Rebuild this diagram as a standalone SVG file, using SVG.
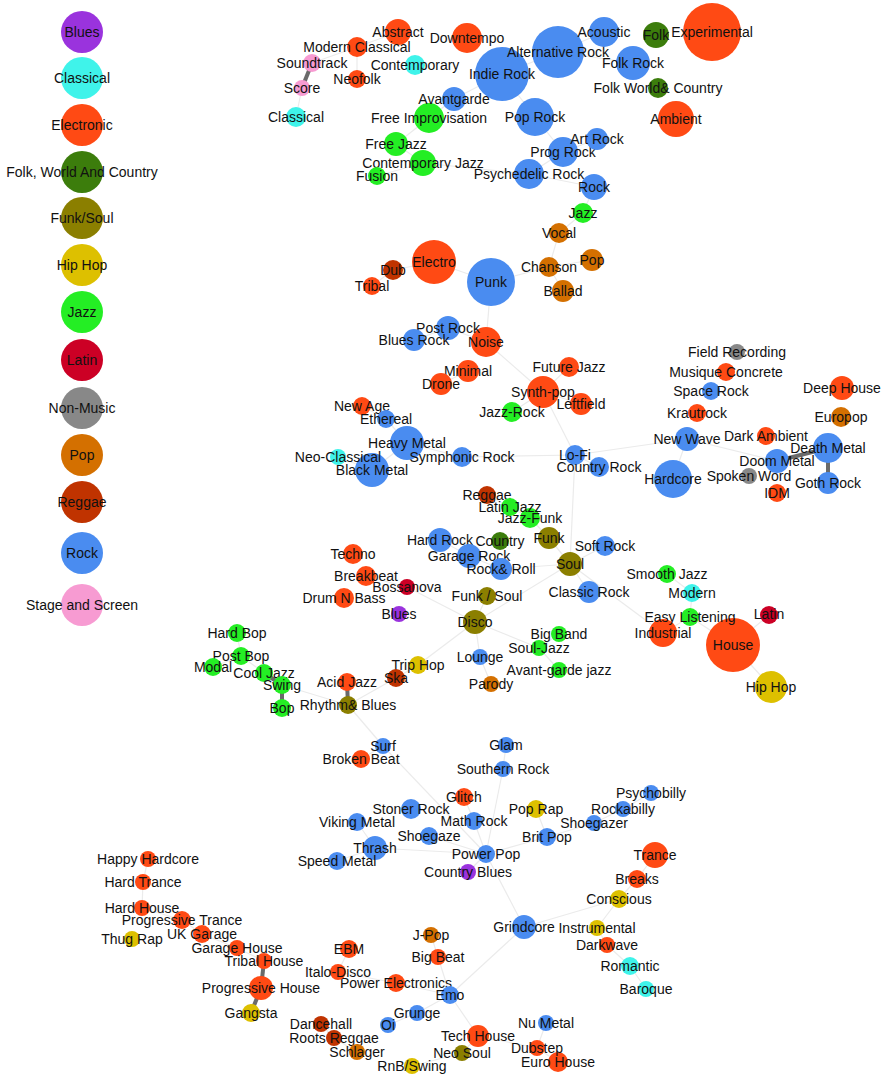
<svg xmlns="http://www.w3.org/2000/svg" width="885" height="1080" viewBox="0 0 885 1080">
<style>
text{font-family:"Liberation Sans",Arial,sans-serif;font-size:14px;fill:#111;text-anchor:middle}
.bl{fill:#9a33dd}.cl{fill:#3ff3ea}.el{fill:#ff4a14}.fo{fill:#3c7d0c}.fu{fill:#8b7f00}.hh{fill:#ddc000}.ja{fill:#24ee24}.la{fill:#cc0025}.nm{fill:#888}.po{fill:#d47000}.re{fill:#c03300}.ro{fill:#4a8cf0}.st{fill:#f79bd2}
#edges line{stroke:#ebebeb;stroke-width:1.2}
#edges line.t{stroke:#6a6a6a;stroke-width:4}
</style>
<rect width="885" height="1080" fill="#fff"/>
<g id="legend">
<g id="lg-blues"><circle class="bl" cx="82" cy="32" r="21"/><text x="82" y="37">Blues</text></g>
<g id="lg-classical"><circle class="cl" cx="82" cy="78" r="21"/><text x="82" y="83">Classical</text></g>
<g id="lg-electronic"><circle class="el" cx="82" cy="125" r="21"/><text x="82" y="130">Electronic</text></g>
<g id="lg-folk"><circle class="fo" cx="82" cy="172" r="21"/><text x="82" y="177">Folk, World And Country</text></g>
<g id="lg-funk"><circle class="fu" cx="82" cy="218" r="21"/><text x="82" y="223">Funk/Soul</text></g>
<g id="lg-hiphop"><circle class="hh" cx="82" cy="265" r="21"/><text x="82" y="270">Hip Hop</text></g>
<g id="lg-jazz"><circle class="ja" cx="82" cy="312" r="21"/><text x="82" y="317">Jazz</text></g>
<g id="lg-latin"><circle class="la" cx="82" cy="360" r="21"/><text x="82" y="365">Latin</text></g>
<g id="lg-nonmusic"><circle class="nm" cx="82" cy="408" r="21"/><text x="82" y="413">Non-Music</text></g>
<g id="lg-pop"><circle class="po" cx="82" cy="455" r="21"/><text x="82" y="460">Pop</text></g>
<g id="lg-reggae"><circle class="re" cx="82" cy="502" r="21"/><text x="82" y="507">Reggae</text></g>
<g id="lg-rock"><circle class="ro" cx="82" cy="553" r="21"/><text x="82" y="558">Rock</text></g>
<g id="lg-stage"><circle class="st" cx="82" cy="605" r="21"/><text x="82" y="610">Stage and Screen</text></g>
</g>
<g id="edges">
<line class="t" x1="302" y1="88" x2="312" y2="63"/>
<line x1="302" y1="88" x2="296" y2="117"/>
<line x1="312" y1="63" x2="357" y2="47"/>
<line x1="357" y1="47" x2="357" y2="79"/>
<line x1="357" y1="47" x2="398" y2="32"/>
<line x1="502" y1="74" x2="558" y2="52"/>
<line x1="502" y1="74" x2="454" y2="99"/>
<line x1="454" y1="99" x2="429" y2="118"/>
<line x1="429" y1="118" x2="396" y2="144"/>
<line x1="396" y1="144" x2="423" y2="163"/>
<line x1="423" y1="163" x2="377" y2="176"/>
<line x1="423" y1="163" x2="529" y2="174"/>
<line x1="558" y1="52" x2="633" y2="63"/>
<line x1="558" y1="52" x2="604" y2="32"/>
<line x1="502" y1="74" x2="535" y2="117"/>
<line x1="535" y1="117" x2="563" y2="152"/>
<line x1="563" y1="152" x2="597" y2="139"/>
<line x1="563" y1="152" x2="529" y2="174"/>
<line x1="529" y1="174" x2="594" y2="187"/>
<line x1="594" y1="187" x2="583" y2="213"/>
<line x1="583" y1="213" x2="559" y2="233"/>
<line x1="559" y1="233" x2="549" y2="267"/>
<line x1="549" y1="267" x2="491" y2="282"/>
<line x1="549" y1="267" x2="592" y2="260"/>
<line x1="549" y1="267" x2="563" y2="291"/>
<line x1="434" y1="262" x2="491" y2="282"/>
<line x1="393" y1="270" x2="434" y2="262"/>
<line x1="393" y1="270" x2="372" y2="286"/>
<line x1="491" y1="282" x2="486" y2="342"/>
<line x1="486" y1="342" x2="448" y2="328"/>
<line x1="448" y1="328" x2="414" y2="340"/>
<line x1="486" y1="342" x2="543" y2="392"/>
<line x1="468" y1="371" x2="441" y2="384"/>
<line x1="543" y1="392" x2="569" y2="367"/>
<line x1="543" y1="392" x2="581" y2="404"/>
<line x1="543" y1="392" x2="512" y2="412"/>
<line x1="543" y1="392" x2="575" y2="455"/>
<line x1="575" y1="455" x2="462" y2="457"/>
<line x1="462" y1="457" x2="407" y2="443"/>
<line x1="407" y1="443" x2="386" y2="419"/>
<line x1="386" y1="419" x2="362" y2="406"/>
<line x1="407" y1="443" x2="372" y2="470"/>
<line x1="372" y1="470" x2="338" y2="457"/>
<line x1="575" y1="455" x2="687" y2="439"/>
<line x1="687" y1="439" x2="673" y2="479"/>
<line x1="687" y1="439" x2="777" y2="461"/>
<line class="t" x1="777" y1="461" x2="828" y2="448"/>
<line class="t" x1="828" y1="448" x2="828" y2="483"/>
<line x1="575" y1="455" x2="599" y2="467"/>
<line x1="575" y1="455" x2="570" y2="564"/>
<line x1="570" y1="564" x2="549" y2="538"/>
<line x1="549" y1="538" x2="530" y2="518"/>
<line x1="530" y1="518" x2="510" y2="507"/>
<line x1="510" y1="507" x2="487" y2="495"/>
<line x1="570" y1="564" x2="501" y2="569"/>
<line x1="501" y1="569" x2="469" y2="556"/>
<line x1="469" y1="556" x2="440" y2="540"/>
<line x1="570" y1="564" x2="605" y2="546"/>
<line x1="570" y1="564" x2="589" y2="592"/>
<line x1="570" y1="564" x2="475" y2="622"/>
<line x1="570" y1="564" x2="663" y2="633"/>
<line x1="663" y1="633" x2="690" y2="617"/>
<line x1="690" y1="617" x2="692" y2="593"/>
<line x1="692" y1="593" x2="667" y2="574"/>
<line x1="690" y1="617" x2="733" y2="645"/>
<line x1="733" y1="645" x2="769" y2="615"/>
<line x1="733" y1="645" x2="771" y2="687"/>
<line x1="475" y1="622" x2="487" y2="596"/>
<line x1="475" y1="622" x2="407" y2="587"/>
<line x1="407" y1="587" x2="366" y2="576"/>
<line x1="475" y1="622" x2="480" y2="657"/>
<line x1="480" y1="657" x2="491" y2="684"/>
<line x1="475" y1="622" x2="539" y2="648"/>
<line x1="539" y1="648" x2="559" y2="634"/>
<line x1="539" y1="648" x2="559" y2="670"/>
<line x1="475" y1="622" x2="418" y2="665"/>
<line x1="418" y1="665" x2="396" y2="678"/>
<line x1="396" y1="678" x2="348" y2="705"/>
<line class="t" x1="347" y1="682" x2="348" y2="705"/>
<line x1="348" y1="705" x2="282" y2="685"/>
<line class="t" x1="282" y1="685" x2="264" y2="673"/>
<line class="t" x1="282" y1="685" x2="282" y2="708"/>
<line x1="264" y1="673" x2="241" y2="656"/>
<line x1="241" y1="656" x2="237" y2="633"/>
<line x1="241" y1="656" x2="213" y2="667"/>
<line x1="348" y1="705" x2="383" y2="746"/>
<line x1="383" y1="746" x2="361" y2="759"/>
<line x1="383" y1="746" x2="486" y2="854"/>
<line x1="486" y1="854" x2="503" y2="769"/>
<line x1="503" y1="769" x2="506" y2="745"/>
<line x1="486" y1="854" x2="474" y2="821"/>
<line x1="474" y1="821" x2="464" y2="797"/>
<line x1="486" y1="854" x2="429" y2="836"/>
<line x1="486" y1="854" x2="375" y2="848"/>
<line x1="375" y1="848" x2="357" y2="822"/>
<line x1="375" y1="848" x2="337" y2="861"/>
<line x1="486" y1="854" x2="547" y2="837"/>
<line x1="547" y1="837" x2="536" y2="809"/>
<line x1="547" y1="837" x2="594" y2="823"/>
<line x1="594" y1="823" x2="623" y2="809"/>
<line x1="623" y1="809" x2="651" y2="793"/>
<line x1="486" y1="854" x2="468" y2="872"/>
<line x1="486" y1="854" x2="524" y2="927"/>
<line x1="524" y1="927" x2="619" y2="899"/>
<line x1="619" y1="899" x2="637" y2="879"/>
<line x1="637" y1="879" x2="655" y2="855"/>
<line x1="619" y1="899" x2="597" y2="928"/>
<line x1="597" y1="928" x2="607" y2="945"/>
<line x1="607" y1="945" x2="630" y2="966"/>
<line x1="630" y1="966" x2="646" y2="989"/>
<line x1="524" y1="927" x2="450" y2="995"/>
<line x1="450" y1="995" x2="438" y2="957"/>
<line x1="438" y1="957" x2="431" y2="935"/>
<line x1="450" y1="995" x2="396" y2="983"/>
<line x1="396" y1="983" x2="338" y2="972"/>
<line x1="338" y1="972" x2="349" y2="949"/>
<line x1="450" y1="995" x2="417" y2="1013"/>
<line x1="417" y1="1013" x2="388" y2="1025"/>
<line x1="450" y1="995" x2="478" y2="1036"/>
<line x1="478" y1="1036" x2="462" y2="1053"/>
<line x1="478" y1="1036" x2="537" y2="1048"/>
<line x1="537" y1="1048" x2="546" y2="1023"/>
<line x1="537" y1="1048" x2="558" y2="1062"/>
<line x1="462" y1="1053" x2="412" y2="1066"/>
<line class="t" x1="264" y1="961" x2="261" y2="988"/>
<line class="t" x1="261" y1="988" x2="251" y2="1013"/>
<line x1="264" y1="961" x2="237" y2="948"/>
<line x1="237" y1="948" x2="202" y2="934"/>
<line x1="202" y1="934" x2="182" y2="920"/>
<line x1="182" y1="920" x2="142" y2="908"/>
<line x1="142" y1="908" x2="143" y2="882"/>
<line x1="143" y1="882" x2="148" y2="859"/>
<line x1="334" y1="1038" x2="321" y2="1024"/>
<line x1="334" y1="1038" x2="357" y2="1052"/>
</g>
<g id="nodes">
<g id="n-experimental"><circle class="el" cx="712" cy="32" r="29"/><text x="712" y="37">Experimental</text></g>
<g id="n-indie-rock"><circle class="ro" cx="502" cy="74" r="27"/><text x="502" y="79">Indie Rock</text></g>
<g id="n-house"><circle class="el" cx="733" cy="645" r="27"/><text x="733" y="650">House</text></g>
<g id="n-alternative-rock"><circle class="ro" cx="558" cy="52" r="26"/><text x="558" y="57">Alternative Rock</text></g>
<g id="n-punk"><circle class="ro" cx="491" cy="282" r="24"/><text x="491" y="287">Punk</text></g>
<g id="n-electro"><circle class="el" cx="434" cy="262" r="22"/><text x="434" y="267">Electro</text></g>
<g id="n-pop-rock"><circle class="ro" cx="535" cy="117" r="19"/><text x="535" y="122">Pop Rock</text></g>
<g id="n-hardcore"><circle class="ro" cx="673" cy="479" r="19"/><text x="673" y="484">Hardcore</text></g>
<g id="n-ambient"><circle class="el" cx="676" cy="119" r="18"/><text x="676" y="124">Ambient</text></g>
<g id="n-folk-rock"><circle class="ro" cx="633" cy="63" r="17"/><text x="633" y="68">Folk Rock</text></g>
<g id="n-heavy-metal"><circle class="ro" cx="407" cy="443" r="17"/><text x="407" y="448">Heavy Metal</text></g>
<g id="n-black-metal"><circle class="ro" cx="372" cy="470" r="17"/><text x="372" y="475">Black Metal</text></g>
<g id="n-synth-pop"><circle class="el" cx="543" cy="392" r="16"/><text x="543" y="397">Synth-pop</text></g>
<g id="n-hip-hop"><circle class="hh" cx="771" cy="687" r="16"/><text x="771" y="692">Hip Hop</text></g>
<g id="n-downtempo"><circle class="el" cx="467" cy="38" r="15"/><text x="467" y="43">Downtempo</text></g>
<g id="n-acoustic"><circle class="ro" cx="604" cy="32" r="15"/><text x="604" y="37">Acoustic</text></g>
<g id="n-free-improvisation"><circle class="ja" cx="429" cy="118" r="15"/><text x="429" y="123">Free Improvisation</text></g>
<g id="n-prog-rock"><circle class="ro" cx="563" cy="152" r="15"/><text x="563" y="157">Prog Rock</text></g>
<g id="n-psychedelic-rock"><circle class="ro" cx="529" cy="174" r="15"/><text x="529" y="179">Psychedelic Rock</text></g>
<g id="n-noise"><circle class="el" cx="486" cy="342" r="15"/><text x="486" y="347">Noise</text></g>
<g id="n-death-metal"><circle class="ro" cx="828" cy="448" r="15"/><text x="828" y="453">Death Metal</text></g>
<g id="n-industrial"><circle class="el" cx="663" cy="633" r="14"/><text x="663" y="638">Industrial</text></g>
<g id="n-abstract"><circle class="el" cx="398" cy="32" r="13"/><text x="398" y="37">Abstract</text></g>
<g id="n-folk"><circle class="fo" cx="656" cy="35" r="13"/><text x="656" y="40">Folk</text></g>
<g id="n-contemporary-jazz"><circle class="ja" cx="423" cy="163" r="13"/><text x="423" y="168">Contemporary Jazz</text></g>
<g id="n-rock"><circle class="ro" cx="594" cy="187" r="13"/><text x="594" y="192">Rock</text></g>
<g id="n-trance"><circle class="el" cx="655" cy="855" r="13"/><text x="655" y="860">Trance</text></g>
<g id="n-avantgarde"><circle class="ro" cx="454" cy="99" r="12"/><text x="454" y="104">Avantgarde</text></g>
<g id="n-free-jazz"><circle class="ja" cx="396" cy="144" r="12"/><text x="396" y="149">Free Jazz</text></g>
<g id="n-post-rock"><circle class="ro" cx="448" cy="328" r="12"/><text x="448" y="333">Post Rock</text></g>
<g id="n-deep-house"><circle class="el" cx="842" cy="388" r="12"/><text x="842" y="393">Deep House</text></g>
<g id="n-new-wave"><circle class="ro" cx="687" cy="439" r="12"/><text x="687" y="444">New Wave</text></g>
<g id="n-doom-metal"><circle class="ro" cx="777" cy="461" r="12"/><text x="777" y="466">Doom Metal</text></g>
<g id="n-hard-rock"><circle class="ro" cx="440" cy="540" r="12"/><text x="440" y="545">Hard Rock</text></g>
<g id="n-garage-rock"><circle class="ro" cx="469" cy="556" r="12"/><text x="469" y="561">Garage Rock</text></g>
<g id="n-soul"><circle class="fu" cx="570" cy="564" r="12"/><text x="570" y="569">Soul</text></g>
<g id="n-disco"><circle class="fu" cx="475" cy="622" r="12"/><text x="475" y="627">Disco</text></g>
<g id="n-thrash"><circle class="ro" cx="375" cy="848" r="12"/><text x="375" y="853">Thrash</text></g>
<g id="n-grindcore"><circle class="ro" cx="524" cy="927" r="12"/><text x="524" y="932">Grindcore</text></g>
<g id="n-progressive-house"><circle class="el" cx="261" cy="988" r="12"/><text x="261" y="993">Progressive House</text></g>
<g id="n-art-rock"><circle class="ro" cx="597" cy="139" r="11"/><text x="597" y="144">Art Rock</text></g>
<g id="n-pop"><circle class="po" cx="592" cy="260" r="11"/><text x="592" y="265">Pop</text></g>
<g id="n-ballad"><circle class="po" cx="563" cy="291" r="11"/><text x="563" y="296">Ballad</text></g>
<g id="n-blues-rock"><circle class="ro" cx="414" cy="340" r="11"/><text x="414" y="345">Blues Rock</text></g>
<g id="n-minimal"><circle class="el" cx="468" cy="371" r="11"/><text x="468" y="376">Minimal</text></g>
<g id="n-drone"><circle class="el" cx="441" cy="384" r="11"/><text x="441" y="389">Drone</text></g>
<g id="n-leftfield"><circle class="el" cx="581" cy="404" r="11"/><text x="581" y="409">Leftfield</text></g>
<g id="n-goth-rock"><circle class="ro" cx="828" cy="483" r="11"/><text x="828" y="488">Goth Rock</text></g>
<g id="n-funk"><circle class="fu" cx="549" cy="538" r="11"/><text x="549" y="543">Funk</text></g>
<g id="n-rock-roll"><circle class="ro" cx="501" cy="569" r="11"/><text x="501" y="574">Rock&amp; Roll</text></g>
<g id="n-classic-rock"><circle class="ro" cx="589" cy="592" r="11"/><text x="589" y="597">Classic Rock</text></g>
<g id="n-tech-house"><circle class="el" cx="478" cy="1036" r="11"/><text x="478" y="1041">Tech House</text></g>
<g id="n-modern-classical"><circle class="el" cx="357" cy="47" r="10"/><text x="357" y="52">Modern Classical</text></g>
<g id="n-contemporary"><circle class="cl" cx="415" cy="65" r="10"/><text x="415" y="70">Contemporary</text></g>
<g id="n-classical"><circle class="cl" cx="296" cy="117" r="10"/><text x="296" y="122">Classical</text></g>
<g id="n-folk-world-country"><circle class="fo" cx="658" cy="88" r="10"/><text x="658" y="93">Folk World&amp; Country</text></g>
<g id="n-jazz"><circle class="ja" cx="583" cy="213" r="10"/><text x="583" y="218">Jazz</text></g>
<g id="n-vocal"><circle class="po" cx="559" cy="233" r="10"/><text x="559" y="238">Vocal</text></g>
<g id="n-dub"><circle class="re" cx="393" cy="270" r="10"/><text x="393" y="275">Dub</text></g>
<g id="n-chanson"><circle class="po" cx="549" cy="267" r="10"/><text x="549" y="272">Chanson</text></g>
<g id="n-future-jazz"><circle class="el" cx="569" cy="367" r="10"/><text x="569" y="372">Future Jazz</text></g>
<g id="n-jazz-rock"><circle class="ja" cx="512" cy="412" r="10"/><text x="512" y="417">Jazz-Rock</text></g>
<g id="n-europop"><circle class="po" cx="841" cy="417" r="10"/><text x="841" y="422">Europop</text></g>
<g id="n-lo-fi"><circle class="ro" cx="575" cy="455" r="10"/><text x="575" y="460">Lo-Fi</text></g>
<g id="n-symphonic-rock"><circle class="ro" cx="462" cy="457" r="10"/><text x="462" y="462">Symphonic Rock</text></g>
<g id="n-country-rock"><circle class="ro" cx="599" cy="467" r="10"/><text x="599" y="472">Country Rock</text></g>
<g id="n-jazz-funk"><circle class="ja" cx="530" cy="518" r="10"/><text x="530" y="523">Jazz-Funk</text></g>
<g id="n-soft-rock"><circle class="ro" cx="605" cy="546" r="10"/><text x="605" y="551">Soft Rock</text></g>
<g id="n-techno"><circle class="el" cx="353" cy="554" r="10"/><text x="353" y="559">Techno</text></g>
<g id="n-breakbeat"><circle class="el" cx="366" cy="576" r="10"/><text x="366" y="581">Breakbeat</text></g>
<g id="n-drum-n-bass"><circle class="el" cx="344" cy="598" r="10"/><text x="344" y="603">Drum N Bass</text></g>
<g id="n-stoner-rock"><circle class="ro" cx="411" cy="809" r="10"/><text x="411" y="814">Stoner Rock</text></g>
<g id="n-euro-house"><circle class="el" cx="558" cy="1062" r="10"/><text x="558" y="1067">Euro House</text></g>
<g id="n-soundtrack"><circle class="st" cx="312" cy="63" r="9"/><text x="312" y="68">Soundtrack</text></g>
<g id="n-neofolk"><circle class="el" cx="357" cy="79" r="9"/><text x="357" y="84">Neofolk</text></g>
<g id="n-fusion"><circle class="ja" cx="377" cy="176" r="9"/><text x="377" y="181">Fusion</text></g>
<g id="n-tribal"><circle class="el" cx="372" cy="286" r="9"/><text x="372" y="291">Tribal</text></g>
<g id="n-musique-concrete"><circle class="el" cx="726" cy="372" r="9"/><text x="726" y="377">Musique Concrete</text></g>
<g id="n-space-rock"><circle class="ro" cx="711" cy="391" r="9"/><text x="711" y="396">Space Rock</text></g>
<g id="n-new-age"><circle class="el" cx="362" cy="406" r="9"/><text x="362" y="411">New Age</text></g>
<g id="n-krautrock"><circle class="el" cx="697" cy="413" r="9"/><text x="697" y="418">Krautrock</text></g>
<g id="n-ethereal"><circle class="ro" cx="386" cy="419" r="9"/><text x="386" y="424">Ethereal</text></g>
<g id="n-dark-ambient"><circle class="el" cx="766" cy="436" r="9"/><text x="766" y="441">Dark Ambient</text></g>
<g id="n-idm"><circle class="el" cx="777" cy="493" r="9"/><text x="777" y="498">IDM</text></g>
<g id="n-reggae"><circle class="re" cx="487" cy="495" r="9"/><text x="487" y="500">Reggae</text></g>
<g id="n-latin-jazz"><circle class="ja" cx="510" cy="507" r="9"/><text x="510" y="512">Latin Jazz</text></g>
<g id="n-country"><circle class="fo" cx="500" cy="541" r="9"/><text x="500" y="546">Country</text></g>
<g id="n-smooth-jazz"><circle class="ja" cx="667" cy="574" r="9"/><text x="667" y="579">Smooth Jazz</text></g>
<g id="n-modern"><circle class="cl" cx="692" cy="593" r="9"/><text x="692" y="598">Modern</text></g>
<g id="n-funk-soul"><circle class="fu" cx="487" cy="596" r="9"/><text x="487" y="601">Funk / Soul</text></g>
<g id="n-latin"><circle class="la" cx="769" cy="615" r="9"/><text x="769" y="619">Latin</text></g>
<g id="n-easy-listening"><circle class="ja" cx="690" cy="617" r="9"/><text x="690" y="622">Easy Listening</text></g>
<g id="n-hard-bop"><circle class="ja" cx="237" cy="633" r="9"/><text x="237" y="638">Hard Bop</text></g>
<g id="n-post-bop"><circle class="ja" cx="241" cy="656" r="9"/><text x="241" y="661">Post Bop</text></g>
<g id="n-trip-hop"><circle class="hh" cx="418" cy="665" r="9"/><text x="418" y="670">Trip Hop</text></g>
<g id="n-modal"><circle class="ja" cx="213" cy="667" r="9"/><text x="213" y="672">Modal</text></g>
<g id="n-cool-jazz"><circle class="ja" cx="264" cy="673" r="9"/><text x="264" y="678">Cool Jazz</text></g>
<g id="n-ska"><circle class="re" cx="396" cy="678" r="9"/><text x="396" y="683">Ska</text></g>
<g id="n-acid-jazz"><circle class="el" cx="347" cy="682" r="9"/><text x="347" y="687">Acid Jazz</text></g>
<g id="n-swing"><circle class="ja" cx="282" cy="685" r="9"/><text x="282" y="690">Swing</text></g>
<g id="n-rhythm-blues"><circle class="fu" cx="348" cy="705" r="9"/><text x="348" y="710">Rhythm&amp; Blues</text></g>
<g id="n-bop"><circle class="ja" cx="282" cy="708" r="9"/><text x="282" y="713">Bop</text></g>
<g id="n-broken-beat"><circle class="el" cx="361" cy="759" r="9"/><text x="361" y="764">Broken Beat</text></g>
<g id="n-glitch"><circle class="el" cx="464" cy="797" r="9"/><text x="464" y="802">Glitch</text></g>
<g id="n-pop-rap"><circle class="hh" cx="536" cy="809" r="9"/><text x="536" y="814">Pop Rap</text></g>
<g id="n-math-rock"><circle class="ro" cx="474" cy="821" r="9"/><text x="474" y="826">Math Rock</text></g>
<g id="n-viking-metal"><circle class="ro" cx="357" cy="822" r="9"/><text x="357" y="827">Viking Metal</text></g>
<g id="n-shoegaze"><circle class="ro" cx="429" cy="836" r="9"/><text x="429" y="841">Shoegaze</text></g>
<g id="n-brit-pop"><circle class="ro" cx="547" cy="837" r="9"/><text x="547" y="842">Brit Pop</text></g>
<g id="n-power-pop"><circle class="ro" cx="486" cy="854" r="9"/><text x="486" y="859">Power Pop</text></g>
<g id="n-speed-metal"><circle class="ro" cx="337" cy="861" r="9"/><text x="337" y="866">Speed Metal</text></g>
<g id="n-breaks"><circle class="el" cx="637" cy="879" r="9"/><text x="637" y="884">Breaks</text></g>
<g id="n-conscious"><circle class="hh" cx="619" cy="899" r="9"/><text x="619" y="904">Conscious</text></g>
<g id="n-progressive-trance"><circle class="el" cx="182" cy="920" r="9"/><text x="182" y="925">Progressive Trance</text></g>
<g id="n-uk-garage"><circle class="el" cx="202" cy="934" r="9"/><text x="202" y="939">UK Garage</text></g>
<g id="n-ebm"><circle class="el" cx="349" cy="949" r="9"/><text x="349" y="954">EBM</text></g>
<g id="n-romantic"><circle class="cl" cx="630" cy="966" r="9"/><text x="630" y="971">Romantic</text></g>
<g id="n-power-electronics"><circle class="el" cx="396" cy="983" r="9"/><text x="396" y="988">Power Electronics</text></g>
<g id="n-emo"><circle class="ro" cx="450" cy="995" r="9"/><text x="450" y="1000">Emo</text></g>
<g id="n-gangsta"><circle class="hh" cx="251" cy="1013" r="9"/><text x="251" y="1018">Gangsta</text></g>
<g id="n-score"><circle class="st" cx="302" cy="88" r="8"/><text x="302" y="93">Score</text></g>
<g id="n-field-recording"><circle class="nm" cx="737" cy="352" r="8"/><text x="737" y="357">Field Recording</text></g>
<g id="n-neo-classical"><circle class="cl" cx="338" cy="457" r="8"/><text x="338" y="462">Neo-Classical</text></g>
<g id="n-spoken-word"><circle class="nm" cx="749" cy="476" r="8"/><text x="749" y="481">Spoken Word</text></g>
<g id="n-bossanova"><circle class="la" cx="407" cy="587" r="8"/><text x="407" y="592">Bossanova</text></g>
<g id="n-blues"><circle class="bl" cx="399" cy="614" r="8"/><text x="399" y="619">Blues</text></g>
<g id="n-big-band"><circle class="ja" cx="559" cy="634" r="8"/><text x="559" y="639">Big Band</text></g>
<g id="n-soul-jazz"><circle class="ja" cx="539" cy="648" r="8"/><text x="539" y="653">Soul-Jazz</text></g>
<g id="n-lounge"><circle class="ro" cx="480" cy="657" r="8"/><text x="480" y="662">Lounge</text></g>
<g id="n-avant-garde-jazz"><circle class="ja" cx="559" cy="670" r="8"/><text x="559" y="675">Avant-garde jazz</text></g>
<g id="n-parody"><circle class="po" cx="491" cy="684" r="8"/><text x="491" y="689">Parody</text></g>
<g id="n-glam"><circle class="ro" cx="506" cy="745" r="8"/><text x="506" y="750">Glam</text></g>
<g id="n-surf"><circle class="ro" cx="383" cy="746" r="8"/><text x="383" y="751">Surf</text></g>
<g id="n-southern-rock"><circle class="ro" cx="503" cy="769" r="8"/><text x="503" y="774">Southern Rock</text></g>
<g id="n-psychobilly"><circle class="ro" cx="651" cy="793" r="8"/><text x="651" y="798">Psychobilly</text></g>
<g id="n-rockabilly"><circle class="ro" cx="623" cy="809" r="8"/><text x="623" y="814">Rockabilly</text></g>
<g id="n-shoegazer"><circle class="ro" cx="594" cy="823" r="8"/><text x="594" y="828">Shoegazer</text></g>
<g id="n-happy-hardcore"><circle class="el" cx="148" cy="859" r="8"/><text x="148" y="864">Happy Hardcore</text></g>
<g id="n-country-blues"><circle class="bl" cx="468" cy="872" r="8"/><text x="468" y="877">Country Blues</text></g>
<g id="n-hard-trance"><circle class="el" cx="143" cy="882" r="8"/><text x="143" y="887">Hard Trance</text></g>
<g id="n-hard-house"><circle class="el" cx="142" cy="908" r="8"/><text x="142" y="913">Hard House</text></g>
<g id="n-instrumental"><circle class="hh" cx="597" cy="928" r="8"/><text x="597" y="933">Instrumental</text></g>
<g id="n-j-pop"><circle class="po" cx="431" cy="935" r="8"/><text x="431" y="940">J-Pop</text></g>
<g id="n-thug-rap"><circle class="hh" cx="132" cy="939" r="8"/><text x="132" y="944">Thug Rap</text></g>
<g id="n-darkwave"><circle class="el" cx="607" cy="945" r="8"/><text x="607" y="950">Darkwave</text></g>
<g id="n-garage-house"><circle class="el" cx="237" cy="948" r="8"/><text x="237" y="953">Garage House</text></g>
<g id="n-big-beat"><circle class="el" cx="438" cy="957" r="8"/><text x="438" y="962">Big Beat</text></g>
<g id="n-tribal-house"><circle class="el" cx="264" cy="961" r="8"/><text x="264" y="966">Tribal House</text></g>
<g id="n-italo-disco"><circle class="el" cx="338" cy="972" r="8"/><text x="338" y="977">Italo-Disco</text></g>
<g id="n-baroque"><circle class="cl" cx="646" cy="989" r="8"/><text x="646" y="994">Baroque</text></g>
<g id="n-grunge"><circle class="ro" cx="417" cy="1013" r="8"/><text x="417" y="1018">Grunge</text></g>
<g id="n-nu-metal"><circle class="ro" cx="546" cy="1023" r="8"/><text x="546" y="1028">Nu Metal</text></g>
<g id="n-dancehall"><circle class="re" cx="321" cy="1024" r="8"/><text x="321" y="1029">Dancehall</text></g>
<g id="n-oi"><circle class="ro" cx="388" cy="1025" r="8"/><text x="388" y="1030">Oi</text></g>
<g id="n-roots-reggae"><circle class="re" cx="334" cy="1038" r="8"/><text x="334" y="1043">Roots Reggae</text></g>
<g id="n-dubstep"><circle class="el" cx="537" cy="1048" r="8"/><text x="537" y="1053">Dubstep</text></g>
<g id="n-schlager"><circle class="po" cx="357" cy="1052" r="8"/><text x="357" y="1057">Schlager</text></g>
<g id="n-neo-soul"><circle class="fu" cx="462" cy="1053" r="8"/><text x="462" y="1058">Neo Soul</text></g>
<g id="n-rnb-swing"><circle class="hh" cx="412" cy="1066" r="8"/><text x="412" y="1071">RnB/Swing</text></g>
</g>
</svg>
